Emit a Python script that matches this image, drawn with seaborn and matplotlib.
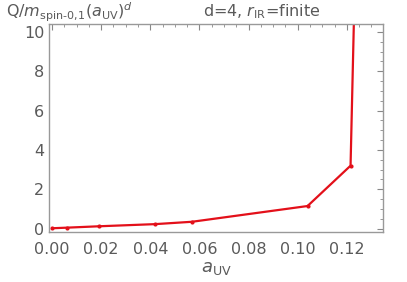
import matplotlib
matplotlib.use('Agg')
import matplotlib.pyplot as plt
from matplotlib.ticker import MultipleLocator
import pandas as pd
import seaborn as sns

# values
a_uv = [0.000, 0.006, 0.019, 0.042, 0.057, 0.104, 0.1215, 0.1235]
q_over_m = [0.02, 0.05, 0.12, 0.23, 0.35, 1.15, 3.2, 14.0]

GRAY = '#5a5a5a'
RED = '#e3101a'

sns.set_style('white')
plt.rcParams['font.family'] = ['DejaVu Sans']
plt.rcParams['mathtext.fontset'] = 'dejavusans'

df = pd.DataFrame({'a': a_uv, 'q': q_over_m})

fig = plt.figure(figsize=(4.07, 2.82), dpi=100)
ax = fig.add_axes([49/407, 1 - 232/282, (383-49)/407, (232-24)/282])

sns.lineplot(data=df, x='a', y='q', ax=ax, color=RED, linewidth=1.6,
             marker='o', markersize=3, markeredgewidth=0, sort=False)

ax.set_xlim(-0.0012, 0.1347)
ax.set_ylim(-0.17, 10.4)
ax.xaxis.set_major_locator(MultipleLocator(0.02))
ax.xaxis.set_minor_locator(MultipleLocator(0.005))
ax.yaxis.set_major_locator(MultipleLocator(2))
ax.yaxis.set_minor_locator(MultipleLocator(0.5))
ax.xaxis.set_major_formatter(matplotlib.ticker.FormatStrFormatter('%.2f'))

ax.tick_params(which='both', direction='in', top=True, right=True,
               colors='#888888', labelcolor=GRAY, labelsize=11.5)
ax.tick_params(which='major', length=4, width=0.8)
ax.tick_params(which='minor', length=2.2, width=0.6)
ax.tick_params(axis='x', pad=7)
for s in ax.spines.values():
    s.set_color('#999999')
    s.set_linewidth(1.0)

ax.set_xlabel('')
ax.set_ylabel('')
fig.text(0.5*(49+383)/407, 1 - 268/282, r'$a_{\mathrm{UV}}$', ha='center',
         va='center', color=GRAY, fontsize=13)
fig.text(6/407, 1 - 12/282, r'Q/$m_{\mathrm{spin\text{-}0{,}1}}$($a_{\mathrm{UV}}$)$^d$',
         ha='left', va='center', color=GRAY, fontsize=11.5)
fig.text(262/407, 1 - 12/282, r'd=4, $r_{\mathrm{IR}}$=finite', ha='center',
         va='center', color=GRAY, fontsize=11.5)

fig.savefig('out.png', dpi=100)
